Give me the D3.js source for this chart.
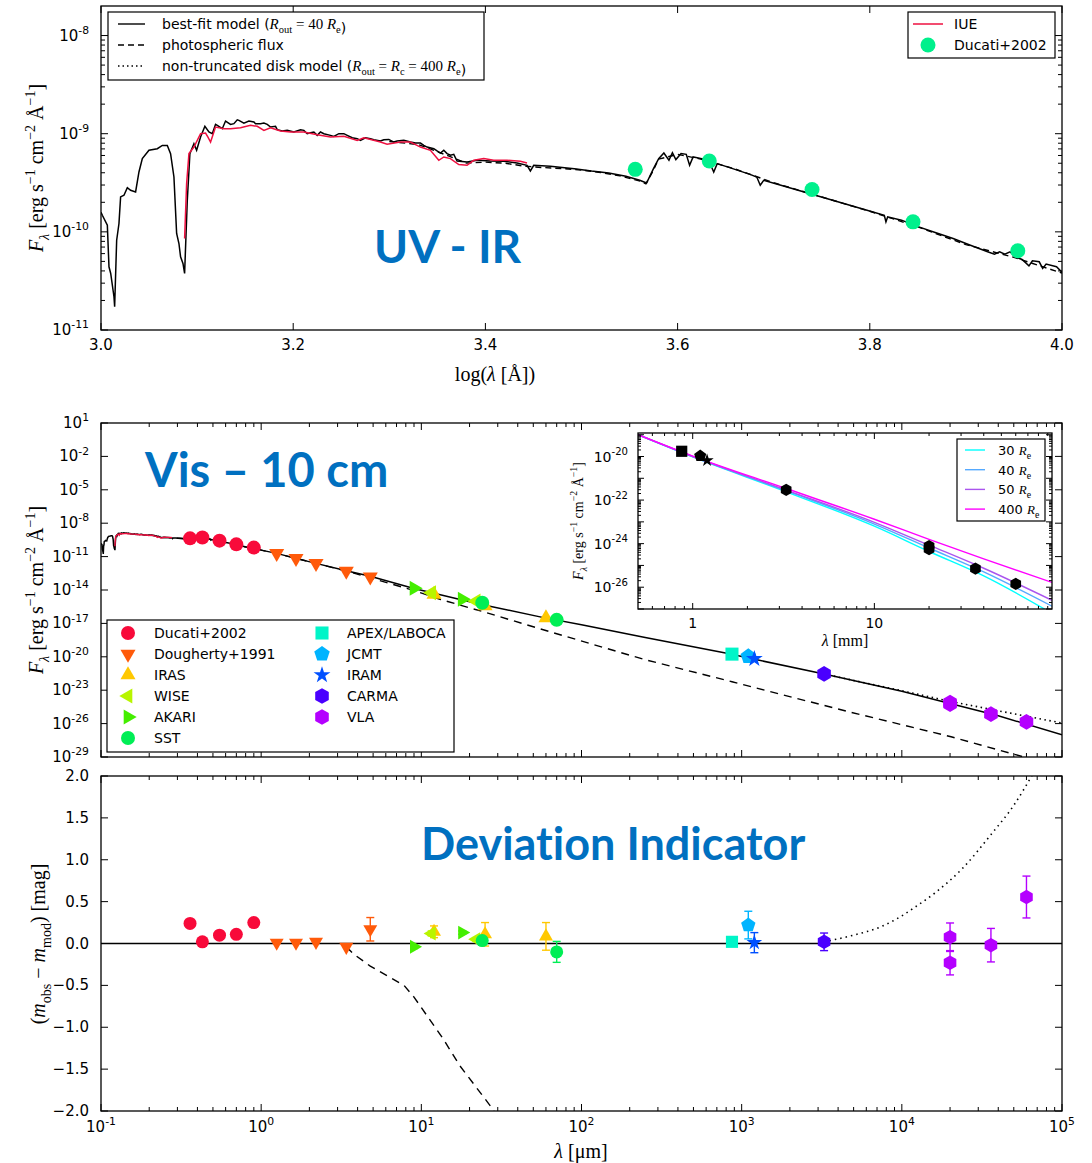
<!DOCTYPE html>
<html>
<head>
<meta charset="utf-8">
<script src="https://cdn.jsdelivr.net/npm/d3@7"></script>
<style>body{margin:0;background:#fff}</style>
</head>
<body>
<script>
// ---- UV-IR model spectrum: [log10 lambda(A), log10 F] ----
var modelTop = [[3.0000,-9.80],[3.0014,-9.831],[3.0066,-9.932],[3.0083,-10.356],[3.0101,-10.424],[3.0135,-10.661],
  [3.0142,-10.763],[3.0163,-10.085],[3.0187,-9.915],[3.0204,-9.644],[3.0239,-9.627],[3.0274,-9.549],[3.0308,-9.576],
  [3.0360,-9.593],[3.0395,-9.390],[3.0430,-9.254],[3.0499,-9.169],[3.0586,-9.153],[3.0638,-9.119],[3.0690,-9.119],
  [3.0724,-9.203],[3.0759,-9.441],[3.0787,-10.017],[3.0811,-10.119],[3.0828,-10.254],[3.0853,-10.322],[3.0870,-10.424],
  [3.0898,-9.678],[3.0925,-9.203],[3.0967,-9.102],[3.0995,-9.169],[3.1036,-9.034],[3.1081,-8.925],[3.1123,-8.983],
  [3.1158,-9.000],[3.1192,-8.905],[3.1210,-8.915],[3.1262,-8.949],[3.1296,-8.871],[3.1348,-8.905],[3.1383,-8.898],
  [3.1418,-8.858],[3.1435,-8.864],[3.1487,-8.892],[3.1539,-8.871],[3.1591,-8.881],[3.1608,-8.898],[3.1660,-8.898],
  [3.1695,-8.892],[3.1730,-8.905],[3.1764,-8.932],[3.1816,-8.925],[3.1834,-8.959],[3.1886,-8.973],[3.1938,-8.966],
  [3.2007,-8.983],[3.2076,-8.959],[3.2111,-8.966],[3.2146,-9.000],[3.2180,-8.990],[3.2215,-8.983],[3.2250,-9.017],
  [3.2284,-8.983],[3.2319,-9.000],[3.2388,-9.017],[3.2423,-9.027],[3.2475,-9.000],[3.2527,-9.000],[3.2562,-9.017],
  [3.2614,-9.041],[3.2666,-9.051],[3.2700,-9.068],[3.2752,-9.041],[3.2804,-9.051],[3.2839,-9.061],[3.2908,-9.075],
  [3.2943,-9.061],[3.2995,-9.058],[3.3047,-9.085],[3.3081,-9.075],[3.3151,-9.068],[3.3220,-9.085],[3.3272,-9.095],
  [3.3324,-9.095],[3.3359,-9.119],[3.3393,-9.136],[3.3463,-9.153],[3.3497,-9.176],[3.3532,-9.197],[3.3567,-9.169],
  [3.3601,-9.203],[3.3636,-9.220],[3.3671,-9.210],[3.3705,-9.278],[3.3809,-9.288],[3.3913,-9.271],[3.4052,-9.278],
  [3.4191,-9.281],[3.4329,-9.298],[3.4433,-9.322],[3.4468,-9.380],[3.4503,-9.322],[3.4676,-9.332],[3.4849,-9.349],
  [3.4925,-9.356],[3.5104,-9.380],[3.5283,-9.400],[3.5462,-9.434],[3.5606,-9.475],[3.5677,-9.502],[3.5749,-9.356],
  [3.5803,-9.254],[3.5857,-9.197],[3.5910,-9.271],[3.5946,-9.193],[3.5982,-9.264],[3.6036,-9.203],[3.6090,-9.210],
  [3.6125,-9.322],[3.6161,-9.237],[3.6251,-9.254],[3.6323,-9.271],[3.6376,-9.390],[3.6412,-9.305],[3.6573,-9.356],
  [3.6753,-9.414],[3.6824,-9.441],[3.6860,-9.525],[3.6896,-9.475],[3.7075,-9.525],[3.7254,-9.576],[3.7434,-9.627],
  [3.7613,-9.678],[3.7792,-9.729],[3.7971,-9.780],[3.8151,-9.831],[3.8168,-9.898],[3.8186,-9.847],[3.8330,-9.881],
  [3.8509,-9.949],[3.8688,-10.010],[3.8867,-10.068],[3.9047,-10.136],[3.9226,-10.203],[3.9297,-10.227],[3.9351,-10.203],
  [3.9405,-10.227],[3.9459,-10.203],[3.9513,-10.254],[3.9584,-10.281],[3.9656,-10.346],[3.9692,-10.295],[3.9763,-10.305],
  [3.9799,-10.373],[3.9835,-10.329],[3.9943,-10.356],[4.0004,-10.417]];

var iueTop = [[3.0870,-10.068],[3.0891,-9.508],[3.0915,-9.203],[3.0967,-9.136],[3.1036,-9.000],[3.1088,-8.993],
  [3.1113,-9.034],[3.1140,-9.085],[3.1192,-8.932],[3.1279,-8.949],[3.1348,-8.949],[3.1452,-8.939],[3.1556,-8.915],
  [3.1626,-8.925],[3.1695,-8.966],[3.1764,-8.939],[3.1868,-8.973],[3.1972,-8.983],[3.2111,-8.983],[3.2250,-9.010],
  [3.2388,-9.034],[3.2527,-9.027],[3.2666,-9.068],[3.2735,-9.041],[3.2908,-9.085],[3.2977,-9.108],[3.3116,-9.085],
  [3.3220,-9.085],[3.3324,-9.136],[3.3428,-9.169],[3.3515,-9.271],[3.3567,-9.237],[3.3636,-9.254],[3.3723,-9.315],
  [3.3809,-9.322],[3.3879,-9.271],[3.3983,-9.254],[3.4087,-9.271],[3.4225,-9.271],[3.4364,-9.281],[3.4433,-9.298]];

var photTop = [[3.30,-9.08],[3.33,-9.11],[3.36,-9.22],[3.38,-9.30],[3.40,-9.29],[3.42,-9.30],[3.44,-9.33],
  [3.46,-9.345],[3.48,-9.355],[3.50,-9.37],[3.52,-9.395],[3.54,-9.43],[3.56,-9.48],[3.567,-9.51],[3.575,-9.37],
  [3.58,-9.26],[3.60,-9.21],[3.625,-9.26],[3.66,-9.36],[3.70,-9.50],[3.75,-9.645],[3.80,-9.79],[3.85,-9.95],
  [3.90,-10.13],[3.95,-10.26],[4.0,-10.42]];

// ---- long-wavelength continuation: [lambda(um), log10 F] ----
var modelExt = [[1.25,-10.71],[1.65,-11.16],[2.2,-11.61],[3.4,-12.28],[4.8,-12.76],[9,-13.86],[12,-14.3],[18,-14.9],
  [25,-15.37],[57,-16.46],[100,-17.12],[250,-18.26],[870,-19.78],[1000,-19.98],[3270,-21.55],[10000,-23.1],
  [20000,-24.2],[40000,-25.3],[100000,-27.0]];
var photExt = [[1.25,-10.71],[1.65,-11.16],[2.2,-11.61],[3.4,-12.3],[4.8,-12.9],[9,-14.05],[13.2,-14.85],[25,-16.0],
  [57,-17.55],[248,-20.25],[870,-22.24],[4670,-24.94],[20300,-27.18],[100000,-29.95]];
var diskExt = [[3270,-21.55],[10000,-23.05],[20000,-24.0],[40000,-24.85],[100000,-25.95]];

// ---- photometry: [lambda(um), log10 F, m_obs - m_mod, error] ----
var ducati = [[0.3597,-9.363,0.24,0],[0.4295,-9.278,0.02,0],[0.5494,-9.569,0.10,0],[0.6998,-9.898,0.11,0],[0.8995,-10.193,0.25,0]];
var dougherty = [[1.25,-10.71,0.01,0],[1.65,-11.16,0.01,0],[2.2,-11.61,0.02,0],[3.4,-12.30,-0.04,0],[4.8,-12.81,0.17,0.14]];
var iras = [[12,-14.40,0.14,0.07],[25,-15.42,0.11,0.14],[60,-16.50,0.085,0.165]];
var wise = [[11.6,-14.25,0.12,0.03],[22,-15.0,0.05,0.02]];
var akari = [[9,-13.85,-0.04,0.02],[18,-14.84,0.13,0.02]];
var sst = [[24,-15.15,0.035,0.03],[70,-16.68,-0.10,0.125]];
var apex = [[870,-19.76,0.02,0.04]];
var jcmt = [[1100,-19.97,0.22,0.165]];
var iram = [[1200,-20.18,0.01,0.12]];
var carma = [[3270,-21.53,0.02,0.105]];
var vla = [[20000,-24.11,0.075,0.17],[20000,-24.25,-0.23,0.145],[36000,-25.15,-0.02,0.2],[60000,-25.85,0.555,0.25]];

// ---- deviation curves: [lambda(um), mag] ----
var devPhot = [[3.4,-0.04],[3.8,-0.13],[4.8,-0.27],[7.8,-0.5],[9,-0.64],[13.7,-1.14],[17.4,-1.46],[28,-1.98],[30,-2.1]];
var devDisk = [[3270,0.02],[5000,0.1],[7400,0.2],[10000,0.33],[12000,0.43],[16000,0.6],[24000,0.9],[36000,1.3],[50000,1.65],[66000,2.03]];

// ---- inset disk models: [lambda(mm), log10 F] ----
var r30 = [[0.5,-19.0],[1,-20.02],[3.27,-21.62],[10,-23.2],[20,-24.36],[40,-25.48],[95,-27.2]];
var r40 = [[0.5,-19.0],[1,-20.0],[3.27,-21.57],[10,-23.1],[20,-24.2],[40,-25.3],[95,-26.87]];
var r50 = [[0.5,-19.0],[1,-20.0],[3.27,-21.54],[10,-23.02],[20,-24.07],[40,-25.13],[95,-26.6]];
var r400 = [[0.5,-19.0],[1,-19.98],[3.27,-21.47],[10,-22.88],[20,-23.8],[40,-24.7],[95,-25.78]];

var series = [
  {name: "Ducati+2002", rows: ducati, shape: "circle", color: "#f80a3a"},
  {name: "Dougherty+1991", rows: dougherty, shape: "tdown", color: "#ff5a0a"},
  {name: "IRAS", rows: iras, shape: "tup", color: "#ffc800"},
  {name: "WISE", rows: wise, shape: "tleft", color: "#b8f500"},
  {name: "AKARI", rows: akari, shape: "tright", color: "#44ee00"},
  {name: "SST", rows: sst, shape: "circle", color: "#00ee55"},
  {name: "APEX/LABOCA", rows: apex, shape: "square", color: "#00f5c8"},
  {name: "JCMT", rows: jcmt, shape: "pentagon", color: "#00b4ff"},
  {name: "IRAM", rows: iram, shape: "star", color: "#0050ff"},
  {name: "CARMA", rows: carma, shape: "hexagon", color: "#4a00ff"},
  {name: "VLA", rows: vla, shape: "hexagon", color: "#b400ff"}
];
var insetModels = [
  {label: "30", rows: r30, color: "#00ffff"},
  {label: "40", rows: r40, color: "#55aaff"},
  {label: "50", rows: r50, color: "#aa55ee"},
  {label: "400", rows: r400, color: "#ff00ff"}
];

var sans = "'DejaVu Sans', sans-serif",
    serif = "'Liberation Serif', 'DejaVu Serif', serif",
    brand = "Lato, 'Open Sans', sans-serif";

var svg = d3.select("body").append("svg")
  .attr("width", 1092).attr("height", 1163)
  .style("font-family", sans);

var boxA = {l: 101, r: 1062, t: 6, b: 330},
    boxB = {l: 101, r: 1062, t: 423, b: 757},
    boxC = {l: 101, r: 1062, t: 776, b: 1111},
    boxI = {l: 638, r: 1052, t: 433, b: 609};

var xA = d3.scaleLinear().domain([3, 4]).range([boxA.l, boxA.r]);
var yA = d3.scaleLog().domain([1e-11, 2e-8]).range([boxA.b, boxA.t]);
var xB = d3.scaleLog().domain([0.1, 1e5]).range([boxB.l, boxB.r]);
var yB = d3.scaleLog().domain([1e-29, 10]).range([boxB.b, boxB.t]);
var yC = d3.scaleLinear().domain([-2, 2]).range([boxC.b, boxC.t]);
var xI = d3.scaleLog().domain([0.5, 95]).range([boxI.l, boxI.r]);
var yI = d3.scaleLog().domain([1e-27, 1.2e-19]).range([boxI.b, boxI.t]);

function p10(v) { return Math.pow(10, v); }

// marker shapes
function poly(n, r, rot) {
  var pts = d3.range(n).map(function(i) {
    var a = rot + i * 2 * Math.PI / n;
    return (r * Math.sin(a)).toFixed(2) + "," + (-r * Math.cos(a)).toFixed(2);
  });
  return "M" + pts.join("L") + "Z";
}
var shapes = {
  circle: function(s) { return d3.symbol(d3.symbolCircle, Math.PI * s * s / 4)(); },
  tdown: function(s) { return poly(3, s * 0.62, Math.PI); },
  tup: function(s) { return poly(3, s * 0.62, 0); },
  tleft: function(s) { return poly(3, s * 0.62, -Math.PI / 2); },
  tright: function(s) { return poly(3, s * 0.62, Math.PI / 2); },
  square: function(s) { return poly(4, s * 0.66, Math.PI / 4); },
  pentagon: function(s) { return poly(5, s * 0.58, 0); },
  star: function(s) { return d3.symbol(d3.symbolStar, s * s * 0.45)(); },
  hexagon: function(s) { return poly(6, s * 0.56, 0); }
};

function clip(box, id) {
  svg.append("clipPath").attr("id", id).append("rect")
    .attr("x", box.l).attr("y", box.t).attr("width", box.r - box.l).attr("height", box.b - box.t);
  return svg.append("g").attr("clip-path", "url(#" + id + ")");
}
function frame(box) {
  svg.append("rect").attr("x", box.l).attr("y", box.t)
    .attr("width", box.r - box.l).attr("height", box.b - box.t)
    .attr("fill", "none").attr("stroke", "#000").attr("stroke-width", 1.3);
}
function tickMarks(box, xs, ys, len) {
  var g = svg.append("g").attr("stroke", "#000").attr("stroke-width", 1);
  xs.forEach(function(x) {
    g.append("line").attr("x1", x).attr("x2", x).attr("y1", box.b).attr("y2", box.b - len);
    g.append("line").attr("x1", x).attr("x2", x).attr("y1", box.t).attr("y2", box.t + len);
  });
  ys.forEach(function(y) {
    g.append("line").attr("x1", box.l).attr("x2", box.l + len).attr("y1", y).attr("y2", y);
    g.append("line").attr("x1", box.r).attr("x2", box.r - len).attr("y1", y).attr("y2", y);
  });
}
function minors(e0, e1, lo, hi) {
  var out = [];
  for (var e = e0; e <= e1; e++) for (var k = 2; k <= 9; k++) {
    var v = k * p10(e);
    if (v > lo && v < hi) out.push(v);
  }
  return out;
}
function powLabel(sel, exp, size) {
  sel.append("tspan").text("10");
  sel.append("tspan").attr("dy", -0.45 * size).attr("font-size", size * 0.72).text(exp);
}
function rich(sel, parts, base) {
  var off = 0;
  parts.forEach(function(p) {
    var target = p.sub ? 0.28 * base : (p.sup ? -0.42 * base : 0);
    var ts = sel.append("tspan").text(p.t).attr("dy", (target - off).toFixed(1));
    off = target;
    if (p.sub || p.sup) ts.attr("font-size", (base * 0.7).toFixed(1));
    if (p.it) ts.attr("font-style", "italic");
    if (p.f) ts.attr("font-family", p.f);
  });
}
var fluxLabel = [{t: "F", it: true}, {t: "λ", sub: true, it: true}, {t: " [erg s"}, {t: "−1", sup: true},
  {t: " cm"}, {t: "−2", sup: true}, {t: " Å"}, {t: "−1", sup: true}, {t: "]"}];
function yLabel(x, y, parts, size) {
  var t = svg.append("text").attr("transform", "translate(" + x + "," + y + ") rotate(-90)")
    .attr("text-anchor", "middle").attr("font-family", serif).attr("font-size", size);
  rich(t, parts, size);
}
function banner(x, y, size, txt) {
  svg.append("text").attr("x", x).attr("y", y).attr("font-family", brand).attr("font-weight", "bold")
    .attr("font-size", size).attr("fill", "#0070c0")
    .style("font-variant-ligatures", "none").style("font-feature-settings", "'liga' 0")
    .text(txt);
}

// =============== TOP PANEL ===============
var gA = clip(boxA, "clipA");
var lineA = d3.line().x(function(d) { return xA(d[0]); }).y(function(d) { return yA(p10(d[1])); });
gA.append("path").datum(photTop).attr("d", lineA).attr("fill", "none")
  .attr("stroke", "#000").attr("stroke-width", 1.4).attr("stroke-dasharray", "6,4");
gA.append("path").datum(modelTop).attr("d", lineA).attr("fill", "none")
  .attr("stroke", "#000").attr("stroke-width", 1.5);
gA.append("path").datum(iueTop).attr("d", lineA).attr("fill", "none")
  .attr("stroke", "#ee1040").attr("stroke-width", 1.5);
gA.selectAll(".duc").data(ducati).enter().append("path")
  .attr("d", shapes.circle(15))
  .attr("transform", function(d) { return "translate(" + xA(Math.log10(d[0] * 1e4)) + "," + yA(p10(d[1])) + ")"; })
  .attr("fill", "#00f08c");

banner(374, 263, 46, "UV - IR");

frame(boxA);
var yAmaj = d3.range(-11, -7).map(p10);
tickMarks(boxA, d3.range(3, 4.01, 0.2).map(xA), [], 7);
tickMarks(boxA, [], yAmaj.map(yA), 7);
tickMarks(boxA, [], minors(-11, -8, 1e-11, 2e-8).map(yA), 4);

svg.append("g").selectAll("text").data(d3.range(3, 4.01, 0.2)).enter().append("text")
  .attr("x", function(d) { return xA(d); }).attr("y", boxA.b + 20)
  .attr("text-anchor", "middle").attr("font-size", 15)
  .text(function(d) { return d.toFixed(1); });
yAmaj.forEach(function(v) {
  var t = svg.append("text").attr("x", 89).attr("y", yA(v) + 5).attr("text-anchor", "end").attr("font-size", 15);
  powLabel(t, String(Math.round(Math.log10(v))), 15);
});
var xlA = svg.append("text").attr("x", 495).attr("y", 381).attr("text-anchor", "middle")
  .attr("font-family", serif).attr("font-size", 20);
rich(xlA, [{t: "log("}, {t: "λ", it: true}, {t: " [Å])"}], 20);
yLabel(43, 168, fluxLabel, 20);

// legends (top)
var legA = svg.append("g");
legA.append("rect").attr("x", 108).attr("y", 12).attr("width", 376).attr("height", 68)
  .attr("fill", "#fff").attr("stroke", "#000").attr("stroke-width", 1.2);
var legRows = [
  {dash: null, pre: "best-fit model (", math: [{t: "R", it: true}, {t: "out", sub: true}, {t: " = 40 "}, {t: "R", it: true}, {t: "e", sub: true}]},
  {dash: "6,4", pre: "photospheric flux", math: []},
  {dash: "1.5,3", pre: "non-truncated disk model (", math: [{t: "R", it: true}, {t: "out", sub: true}, {t: " = "}, {t: "R", it: true}, {t: "c", sub: true}, {t: " = 400 "}, {t: "R", it: true}, {t: "e", sub: true}]}
];
legRows.forEach(function(r, i) {
  var y = 24 + i * 21;
  legA.append("line").attr("x1", 118).attr("x2", 145).attr("y1", y).attr("y2", y)
    .attr("stroke", "#000").attr("stroke-width", 1.4).attr("stroke-dasharray", r.dash);
  var t = legA.append("text").attr("x", 162).attr("y", y + 5).attr("font-size", 14);
  t.append("tspan").text(r.pre);
  if (r.math.length) {
    var parts = r.math.map(function(p) { return Object.assign({f: serif}, p); });
    var m = t.append("tspan").attr("font-size", 15);
    rich(m, parts, 15);
    t.append("tspan").attr("dy", 0).text(")");
  }
});
var legA2 = svg.append("g");
legA2.append("rect").attr("x", 908).attr("y", 12).attr("width", 147).attr("height", 46)
  .attr("fill", "#fff").attr("stroke", "#000").attr("stroke-width", 1.2);
legA2.append("line").attr("x1", 913).attr("x2", 943).attr("y1", 24).attr("y2", 24)
  .attr("stroke", "#ee1040").attr("stroke-width", 1.5);
legA2.append("text").attr("x", 954).attr("y", 29).attr("font-size", 14).text("IUE");
legA2.append("path").attr("d", shapes.circle(15)).attr("transform", "translate(928,45)").attr("fill", "#00f08c");
legA2.append("text").attr("x", 954).attr("y", 50).attr("font-size", 14).text("Ducati+2002");

// =============== MIDDLE PANEL ===============
var gB = clip(boxB, "clipB");
var lineB = d3.line().x(function(d) { return xB(d[0]); }).y(function(d) { return yB(p10(d[1])); });
function toUm(rows) { return rows.map(function(d) { return [p10(d[0] - 4), d[1]]; }); }
var modelFull = toUm(modelTop).concat(modelExt);
var photFull = toUm(photTop).concat(photExt);
gB.append("path").datum(photFull).attr("d", lineB).attr("fill", "none")
  .attr("stroke", "#000").attr("stroke-width", 1.4).attr("stroke-dasharray", "8,6");
gB.append("path").datum(diskExt).attr("d", lineB).attr("fill", "none")
  .attr("stroke", "#000").attr("stroke-width", 1.6).attr("stroke-dasharray", "1.5,3.5");
gB.append("path").datum(modelFull).attr("d", lineB).attr("fill", "none")
  .attr("stroke", "#000").attr("stroke-width", 1.5);
gB.append("path").datum(toUm(iueTop)).attr("d", lineB).attr("fill", "none")
  .attr("stroke", "#ee1040").attr("stroke-width", 1.4);
series.forEach(function(s) {
  gB.selectAll(null).data(s.rows).enter().append("path")
    .attr("d", shapes[s.shape](14))
    .attr("transform", function(d) { return "translate(" + xB(d[0]) + "," + yB(p10(d[1])) + ")"; })
    .attr("fill", s.color);
});

banner(145, 487, 47, "Vis – 10 cm");

frame(boxB);
var xMaj = d3.range(-1, 6).map(p10);
var yBmaj = d3.range(-29, 2, 3).map(p10);
tickMarks(boxB, xMaj.map(xB), yBmaj.map(yB), 7);
tickMarks(boxB, minors(-1, 4, 0.1, 1e5).map(xB), [], 4);
yBmaj.forEach(function(v) {
  var t = svg.append("text").attr("x", 89).attr("y", yB(v) + 5).attr("text-anchor", "end").attr("font-size", 15);
  powLabel(t, String(Math.round(Math.log10(v))), 15);
});
yLabel(43, 590, fluxLabel, 20);

// legend (middle)
var legB = svg.append("g");
legB.append("rect").attr("x", 107).attr("y", 620).attr("width", 347).attr("height", 132)
  .attr("fill", "#fff").attr("stroke", "#000").attr("stroke-width", 1.2);
series.forEach(function(s, i) {
  var col = i < 6 ? 0 : 1, row = i < 6 ? i : i - 6;
  var mx = col ? 322 : 128, tx = col ? 347 : 154, y = 633 + row * 21;
  legB.append("path").attr("d", shapes[s.shape](14)).attr("transform", "translate(" + mx + "," + y + ")").attr("fill", s.color);
  legB.append("text").attr("x", tx).attr("y", y + 5).attr("font-size", 14).text(s.name);
});

// inset
var inset = svg.append("g");
inset.append("rect").attr("x", boxI.l).attr("y", boxI.t).attr("width", boxI.r - boxI.l).attr("height", boxI.b - boxI.t)
  .attr("fill", "#fff");
var gI = clip(boxI, "clipI");
var lineI = d3.line().curve(d3.curveMonotoneX)
  .x(function(d) { return xI(d[0]); }).y(function(d) { return yI(p10(d[1])); });
insetModels.forEach(function(m) {
  gI.append("path").datum(m.rows).attr("d", lineI).attr("fill", "none")
    .attr("stroke", m.color).attr("stroke-width", 1.4);
});
[apex, jcmt, iram, carma, vla].forEach(function(rows, k) {
  var shape = ["square", "pentagon", "star", "hexagon", "hexagon"][k];
  gI.selectAll(null).data(rows).enter().append("path")
    .attr("d", shapes[shape](k === 0 ? 12 : 11))
    .attr("transform", function(d) { return "translate(" + xI(d[0] / 1000) + "," + yI(p10(d[1])) + ")"; })
    .attr("fill", "#000");
});
frame(boxI);
var yImaj = d3.range(-27, -18).map(p10).filter(function(v) { return v <= 1.2e-19; });
tickMarks(boxI, [1, 10].map(xI), yImaj.map(yI), 6);
tickMarks(boxI, [0.6, 0.7, 0.8, 0.9].concat(minors(0, 1, 1, 95)).map(xI), minors(-27, -20, 1e-27, 1.2e-19).map(yI), 3);
[1, 10].forEach(function(v) {
  svg.append("text").attr("x", xI(v)).attr("y", boxI.b + 19).attr("text-anchor", "middle").attr("font-size", 14).text(v);
});
[-26, -24, -22, -20].forEach(function(e) {
  var t = svg.append("text").attr("x", 628).attr("y", yI(p10(e)) + 5).attr("text-anchor", "end").attr("font-size", 14);
  powLabel(t, String(e), 14);
});
var xlI = svg.append("text").attr("x", 845).attr("y", 646).attr("text-anchor", "middle")
  .attr("font-family", serif).attr("font-size", 16);
rich(xlI, [{t: "λ", it: true}, {t: " [mm]"}], 16);
yLabel(583, 521, fluxLabel, 14);

var legI = svg.append("g");
legI.append("rect").attr("x", 957).attr("y", 439).attr("width", 88).attr("height", 82)
  .attr("fill", "#fff").attr("stroke", "#000").attr("stroke-width", 1.2);
insetModels.forEach(function(m, i) {
  var y = 450 + i * 19.7;
  legI.append("line").attr("x1", 965).attr("x2", 985).attr("y1", y).attr("y2", y)
    .attr("stroke", m.color).attr("stroke-width", 1.4);
  var t = legI.append("text").attr("x", 998).attr("y", y + 5).attr("font-size", 13);
  t.append("tspan").text(m.label + " ");
  rich(t, [{t: "R", it: true, f: serif}, {t: "e", sub: true, f: serif}], 14);
});

// =============== BOTTOM PANEL ===============
var gC = clip(boxC, "clipC");
var lineC = d3.line().x(function(d) { return xB(d[0]); }).y(function(d) { return yC(d[1]); });
gC.append("line").attr("x1", boxC.l).attr("x2", boxC.r).attr("y1", yC(0)).attr("y2", yC(0))
  .attr("stroke", "#000").attr("stroke-width", 1.4);
gC.append("path").datum(devPhot).attr("d", lineC).attr("fill", "none")
  .attr("stroke", "#000").attr("stroke-width", 1.4).attr("stroke-dasharray", "8,6");
gC.append("path").datum(devDisk).attr("d", lineC.curve(d3.curveMonotoneX)).attr("fill", "none")
  .attr("stroke", "#000").attr("stroke-width", 1.6).attr("stroke-dasharray", "1.5,4");
series.forEach(function(s) {
  var eb = gC.append("g").attr("stroke", s.color).attr("stroke-width", 1.4);
  s.rows.filter(function(d) { return d[3] > 0; }).forEach(function(d) {
    var x = xB(d[0]), y0 = yC(d[2] - d[3]), y1 = yC(d[2] + d[3]);
    eb.append("line").attr("x1", x).attr("x2", x).attr("y1", y0).attr("y2", y1);
    eb.append("line").attr("x1", x - 4).attr("x2", x + 4).attr("y1", y0).attr("y2", y0);
    eb.append("line").attr("x1", x - 4).attr("x2", x + 4).attr("y1", y1).attr("y2", y1);
  });
});
series.forEach(function(s) {
  gC.selectAll(null).data(s.rows).enter().append("path")
    .attr("d", shapes[s.shape](13))
    .attr("transform", function(d) { return "translate(" + xB(d[0]) + "," + yC(d[2]) + ")"; })
    .attr("fill", s.color);
});

banner(421, 860, 45, "Deviation Indicator");

frame(boxC);
var yCmaj = d3.range(-2, 2.01, 0.5);
tickMarks(boxC, xMaj.map(xB), yCmaj.map(yC), 7);
tickMarks(boxC, minors(-1, 4, 0.1, 1e5).map(xB), [], 4);
yCmaj.forEach(function(v) {
  svg.append("text").attr("x", 89).attr("y", yC(v) + 5).attr("text-anchor", "end").attr("font-size", 15)
    .text(d3.format(".1f")(v).replace("-", "−"));
});
xMaj.forEach(function(v) {
  var t = svg.append("text").attr("x", xB(v)).attr("y", boxC.b + 21).attr("text-anchor", "middle").attr("font-size", 15);
  powLabel(t, String(Math.round(Math.log10(v))), 15);
});
var xlC = svg.append("text").attr("x", 581).attr("y", 1158).attr("text-anchor", "middle")
  .attr("font-family", serif).attr("font-size", 20);
rich(xlC, [{t: "λ", it: true}, {t: " [μm]"}], 20);
yLabel(45, 944, [{t: "("}, {t: "m", it: true}, {t: "obs", sub: true}, {t: " − "}, {t: "m", it: true},
  {t: "mod", sub: true}, {t: ") [mag]"}], 20);
</script>
</body>
</html>
